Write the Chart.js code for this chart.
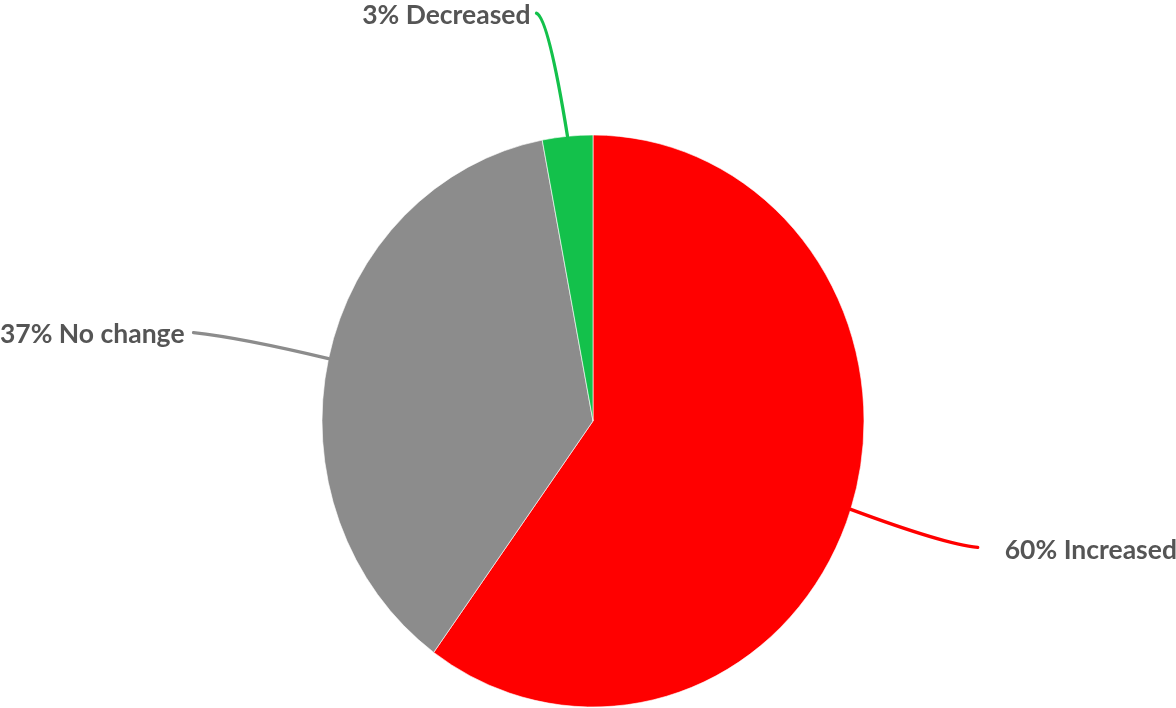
<!DOCTYPE html>
<html>
<head>
<meta charset="utf-8">
<script src="https://cdn.jsdelivr.net/npm/chart.js@4"></script>
<style>
  html, body { margin: 0; padding: 0; background: #fff; }
  #wrap { width: 1176px; height: 708px; position: relative; }
</style>
</head>
<body>
<div id="wrap"><canvas id="chart"></canvas></div>
<script>
const categories = ['Increased', 'No change', 'Decreased'];
const shares = [60, 37, 3];
const sliceColors = ['#ff0000', '#8c8c8c', '#13c14b'];

// callout layout: end of line relative to slice edge, bend point relative to line end, gap to text
const calloutEnds = [[127, 38], [-135, -26], [-31, -123]];
const calloutBends = [[-33, -3], [47, 5], [12, 5]];
const textGaps = [27, 9, 6];

// the reference pie is a little taller than it is wide
const stretchY = 286 / 271;

const stretchPlugin = {
  id: 'stretch',
  beforeDatasetsDraw(chart) {
    const arc = chart.getDatasetMeta(0).data[0];
    const ctx = chart.ctx;
    ctx.save();
    ctx.translate(arc.x, arc.y);
    ctx.scale(1, stretchY);
    ctx.translate(-arc.x, -arc.y);
  },
  afterDatasetsDraw(chart) {
    chart.ctx.restore();
  }
};

const calloutPlugin = {
  id: 'callouts',
  afterDraw(chart) {
    const ctx = chart.ctx;
    const arcs = chart.getDatasetMeta(0).data;
    const total = shares.reduce((a, b) => a + b, 0);
    ctx.save();
    ctx.font = 'bold 26.5px Lato';
    ctx.textBaseline = 'middle';
    arcs.forEach((arc, i) => {
      const mid = (arc.startAngle + arc.endAngle) / 2;
      const sx = arc.x + Math.cos(mid) * arc.outerRadius;
      const sy = arc.y + Math.sin(mid) * arc.outerRadius * stretchY;
      const ex = sx + calloutEnds[i][0];
      const ey = sy + calloutEnds[i][1];
      const bx = ex + calloutBends[i][0];
      const by = ey + calloutBends[i][1];

      ctx.strokeStyle = sliceColors[i];
      ctx.lineWidth = 3.3;
      ctx.lineCap = 'round';
      ctx.beginPath();
      ctx.moveTo(sx, sy);
      ctx.quadraticCurveTo(bx, by, ex, ey);
      ctx.stroke();

      const text = Math.round(shares[i] / total * 100) + '% ' + categories[i];
      ctx.fillStyle = '#555555';
      if (ex > arc.x) {
        ctx.textAlign = 'left';
        ctx.fillText(text, ex + textGaps[i], ey + 3);
      } else {
        ctx.textAlign = 'right';
        ctx.fillText(text, ex - textGaps[i], ey + 2);
      }
    });
    ctx.restore();
  }
};

new Chart(document.getElementById('chart'), {
  type: 'pie',
  data: {
    labels: categories,
    datasets: [{
      data: shares,
      backgroundColor: sliceColors,
      borderColor: '#ffffff',
      borderWidth: 0.6
    }]
  },
  options: {
    responsive: true,
    maintainAspectRatio: false,
    animation: false,
    radius: 271,
    layout: {
      padding: { left: 322, right: 312, top: 150, bottom: 16 }
    },
    plugins: {
      legend: { display: false },
      tooltip: { enabled: false }
    }
  },
  plugins: [stretchPlugin, calloutPlugin]
});
</script>
</body>
</html>
